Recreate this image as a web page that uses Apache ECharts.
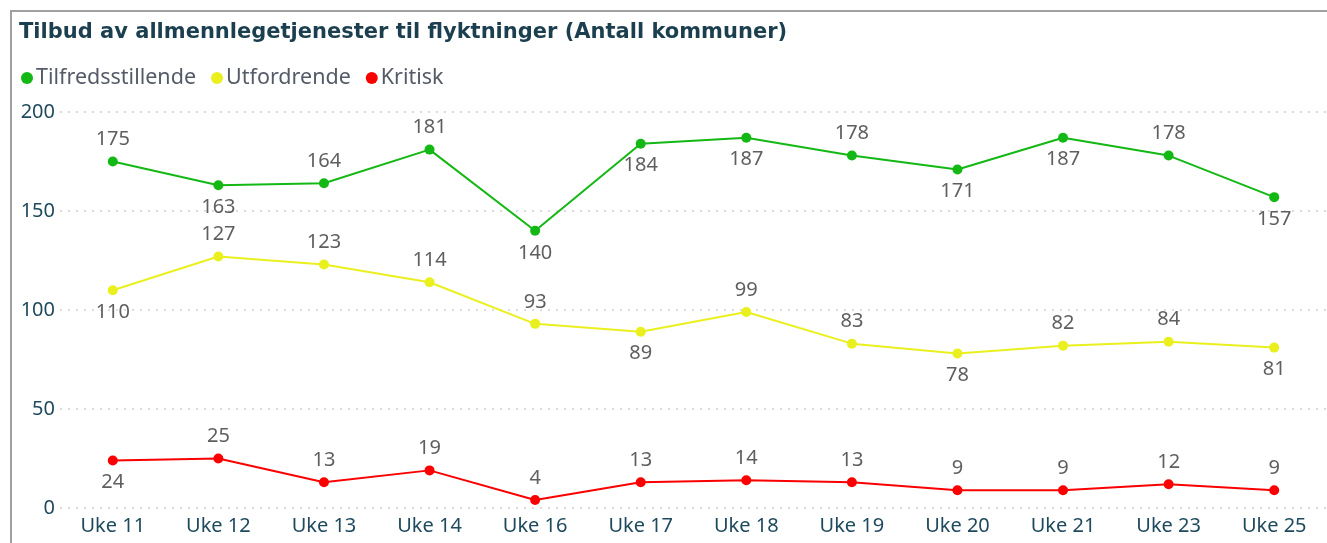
<!DOCTYPE html>
<html lang="no">
<head>
    <meta charset="UTF-8">
    <title>Tilbud av allmennlegetjenester til flyktninger</title>
    <script src="https://cdn.jsdelivr.net/npm/echarts@6/dist/echarts.min.js"></script>
    <style>
        html, body {
            margin: 0;
            padding: 0;
            background: #fff;
            overflow: hidden;
        }

        #chart {
            position: absolute;
            left: 0;
            top: 0;
            width: 1327px;
            height: 543px;
        }

        .frame {
            position: absolute;
            left: 10px;
            top: 10px;
            width: 1330px;
            height: 560px;
            border-left: 2px solid #a0a0a0;
            border-top: 2px solid #a0a0a0;
            pointer-events: none;
        }
    </style>
</head>
<body>

    <div id="chart"></div>
    <div class="frame"></div>

    <script>
        var weeks = ['Uke 11', 'Uke 12', 'Uke 13', 'Uke 14', 'Uke 16', 'Uke 17', 'Uke 18', 'Uke 19', 'Uke 20', 'Uke 21', 'Uke 23', 'Uke 25'];
        var tilfredsstillende = [175, 163, 164, 181, 140, 184, 187, 178, 171, 187, 178, 157];
        var utfordrende = [110, 127, 123, 114, 93, 89, 99, 83, 78, 82, 84, 81];
        var kritisk = [24, 25, 13, 19, 4, 13, 14, 13, 9, 9, 12, 9];

        // where each data label sits (t = over the point, b = under it)
        var tilfredsLabelSide = ['t', 'b', 't', 't', 'b', 'b', 'b', 't', 'b', 'b', 't', 'b'];
        var utfordLabelSide = ['b', 't', 't', 't', 't', 'b', 't', 't', 'b', 't', 't', 'b'];
        var kritiskLabelSide = ['b', 't', 't', 't', 't', 't', 't', 't', 't', 't', 't', 't'];

        var font = '"Noto Sans", "Open Sans", sans-serif';

        function makeData(values, sides) {
            return values.map(function (v, i) {
                return {
                    value: v,
                    label: { position: sides[i] === 't' ? 'top' : 'bottom' }
                };
            });
        }

        function lineSeries(name, color, values, sides) {
            return {
                name: name,
                type: 'line',
                symbol: 'circle',
                symbolSize: 10,
                itemStyle: { color: color },
                lineStyle: { color: color, width: 2 },
                label: {
                    show: true,
                    distance: 7,
                    color: '#5f5f5f',
                    fontFamily: font,
                    fontSize: 20
                },
                emphasis: { disabled: true },
                data: makeData(values, sides)
            };
        }

        var myChart = echarts.init(document.getElementById('chart'));

        myChart.setOption({
            animation: false,
            title: {
                text: 'Tilbud av allmennlegetjenester til flyktninger (Antall kommuner)',
                left: 14,
                top: 17,
                textStyle: {
                    color: '#1c3f50',
                    fontFamily: '"DejaVu Sans", sans-serif',
                    fontWeight: 'bold',
                    fontSize: 21
                }
            },
            legend: {
                left: 16,
                top: 62,
                icon: 'circle',
                itemWidth: 12,
                itemHeight: 12,
                itemGap: 15,
                textStyle: {
                    color: '#555a68',
                    fontFamily: font,
                    fontSize: 21.5,
                    padding: [0, 0, 0, -2]
                },
                data: ['Tilfredsstillende', 'Utfordrende', 'Kritisk']
            },
            grid: {
                left: 60,
                right: -13,
                top: 112,
                bottom: 35,
                containLabel: false
            },
            xAxis: {
                type: 'category',
                data: weeks,
                axisLine: { show: false },
                axisTick: { show: false },
                axisLabel: {
                    color: '#1f4a5e',
                    fontFamily: font,
                    fontSize: 20,
                    margin: 8
                }
            },
            yAxis: {
                type: 'value',
                min: 0,
                max: 200,
                interval: 50,
                axisLine: { show: false },
                axisTick: { show: false },
                axisLabel: {
                    color: '#1f4a5e',
                    fontFamily: font,
                    fontSize: 20,
                    margin: 5
                },
                splitLine: {
                    lineStyle: {
                        color: '#d0d0d0',
                        type: [2, 6],
                        width: 1.5
                    }
                }
            },
            series: [
                lineSeries('Tilfredsstillende', '#14b814', tilfredsstillende, tilfredsLabelSide),
                lineSeries('Utfordrende', '#eaf01e', utfordrende, utfordLabelSide),
                lineSeries('Kritisk', '#fb0000', kritisk, kritiskLabelSide)
            ]
        });
    </script>

</body>
</html>
